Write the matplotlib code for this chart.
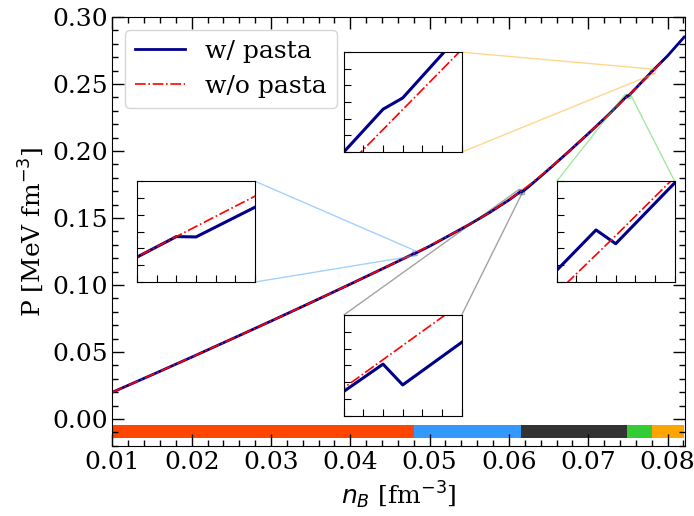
import numpy as np
import matplotlib
matplotlib.use("Agg")
import matplotlib.pyplot as plt
from mpl_toolkits.axes_grid1.inset_locator import mark_inset

plt.rcParams['font.family'] = 'serif'
plt.rcParams['font.size'] = 18

# EoS without pasta (smooth)
n_nopasta = [0.010, 0.015, 0.020, 0.025, 0.030, 0.035, 0.040, 0.045, 0.0475,
             0.050, 0.0525, 0.055, 0.0575, 0.060, 0.0625, 0.065, 0.0675,
             0.070, 0.0725, 0.075, 0.0775, 0.0792]
P_nopasta = [0.0200, 0.0330, 0.0462, 0.0596, 0.0731, 0.0868, 0.1007, 0.1148, 0.12195,
             0.12935, 0.13705, 0.14518, 0.15388, 0.1635, 0.17438, 0.18638, 0.19938,
             0.21295, 0.22680, 0.24098, 0.2555, 0.26604]

# EoS with pasta (small kinks at every phase transition)
n_pasta = [0.010, 0.015, 0.020, 0.025, 0.030, 0.035, 0.040, 0.045, 0.0475,
           0.0478, 0.0480, 0.0481, 0.0484, 0.050, 0.0525, 0.055, 0.0575, 0.060,
           0.0613, 0.0615, 0.0616, 0.0619, 0.0625, 0.065, 0.0675, 0.070, 0.0725,
           0.0747, 0.0749, 0.0750, 0.0753,
           0.0778, 0.0780, 0.0781, 0.07831, 0.080, 0.0821]
P_pasta = [0.0200, 0.0330, 0.0462, 0.0596, 0.0731, 0.0868, 0.1007, 0.1148, 0.12195,
           0.12283, 0.12343, 0.12342, 0.12429, 0.12900, 0.13705, 0.14518, 0.15388, 0.16340,
           0.16905, 0.16989, 0.16925, 0.17056, 0.17340, 0.18620, 0.19938, 0.21295, 0.22680,
           0.23995, 0.24115, 0.24074, 0.24255,
           0.2579, 0.25923, 0.25958, 0.2610, 0.2710, 0.28507]

# pasta phase regions along the density axis
phase_edges = [0.010, 0.048, 0.0615, 0.0749, 0.078, 0.0821]
phase_colors = ['#FF4500', '#3399FF', '#333333', '#33CC33', '#FFA500']

# zoom windows: (n_min, n_max, P_min, P_max), inset box in axes fraction, connector corners
zooms = [
    ((0.0778, 0.0784, 0.2579, 0.2610), [0.404, 0.685, 0.206, 0.233], (1, 4)),
    ((0.0478, 0.0484, 0.1221, 0.12505), [0.043, 0.382, 0.206, 0.235], (1, 4)),
    ((0.0747, 0.0753, 0.2396, 0.2426), [0.776, 0.382, 0.206, 0.235], (2, 1)),
    ((0.0613, 0.0619, 0.1683, 0.1714), [0.404, 0.070, 0.206, 0.235], (2, 1)),
]
zoom_colors = ['#FFA500', '#3399FF', '#33CC33', '#333333']

fig = plt.figure(figsize=(6.94, 5.16), dpi=100)
ax = fig.add_axes([0.162, 0.136, 0.825, 0.831])

ax.plot(n_pasta, P_pasta, color='darkblue', lw=2, label='w/ pasta')
ax.plot(n_nopasta, P_nopasta, color='red', lw=1.2, ls='-.', label='w/o pasta')

for i, c in enumerate(phase_colors):
    ax.broken_barh([(phase_edges[i], phase_edges[i + 1] - phase_edges[i])],
                   (-0.0145, 0.01), facecolors=c)

ax.set_xlim(0.01, 0.0822)
ax.set_ylim(-0.02, 0.30)
ax.set_xticks(np.arange(0.01, 0.081, 0.01))
ax.set_yticks(np.arange(0.0, 0.301, 0.05))
ax.set_xticklabels(['0.01', '0.02', '0.03', '0.04', '0.05', '0.06', '0.07', '0.08'])
ax.set_yticklabels(['0.00', '0.05', '0.10', '0.15', '0.20', '0.25', '0.30'])
ax.set_xticks(np.arange(0.01, 0.0822, 0.002), minor=True)
ax.set_yticks(np.arange(-0.02, 0.301, 0.01), minor=True)
ax.tick_params(which='both', direction='in', top=True, right=True)
ax.tick_params(which='major', length=8.5, width=1)
ax.tick_params(which='minor', length=4.5, width=1)
ax.set_xlabel(r'$n_B$ [fm$^{-3}$]')
ax.set_ylabel(r'P [MeV fm$^{-3}$]')
ax.legend(loc='upper left', fontsize=18)

for (lims, box, locs), col in zip(zooms, zoom_colors):
    axins = ax.inset_axes(box)
    axins.plot(n_pasta, P_pasta, color='darkblue', lw=2.2)
    axins.plot(n_nopasta, P_nopasta, color='red', lw=1.2, ls='-.')
    axins.set_xlim(lims[0], lims[1])
    axins.set_ylim(lims[2], lims[3])
    axins.set_xticks(np.linspace(lims[0], lims[1], 7))
    axins.set_yticks(np.linspace(lims[2], lims[3], 7))
    axins.tick_params(direction='in', length=5, labelbottom=False, labelleft=False)
    mark_inset(ax, axins, loc1=locs[0], loc2=locs[1], ec=col, alpha=0.45, lw=1)

fig.savefig('out.png', dpi=100)
